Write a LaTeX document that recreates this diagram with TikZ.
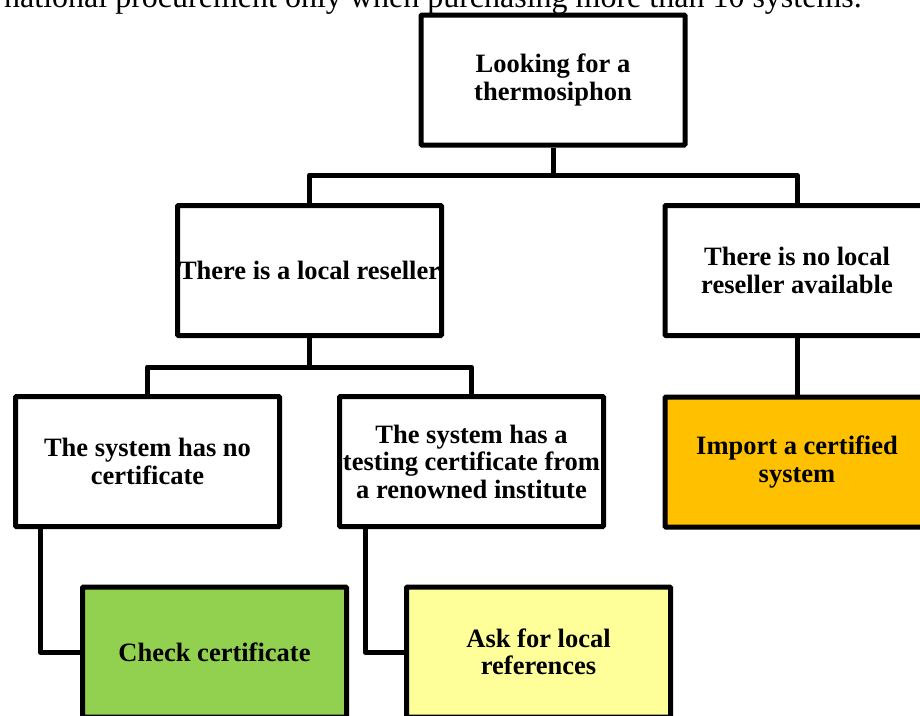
\documentclass[tikz,border=0pt]{standalone}
\usepackage{fontspec}
\setmainfont{Liberation Serif}
\definecolor{cgreen}{HTML}{92D050}
\definecolor{cyellow}{HTML}{FFFF99}
\definecolor{corange}{HTML}{FFC000}
\begin{document}
\begin{tikzpicture}[x=1pt,y=-1pt,
  box/.style={draw=black, line width=5pt, fill=white, rectangle, minimum width=264pt, minimum height=130pt,
    inner sep=0pt, align=center, font=\bfseries\fontsize{26.5}{27.5}\selectfont, rounded corners=1pt},
  conn/.style={draw=black, line width=5pt, line join=round}]
\useasboundingbox (0,0) rectangle (920,715);
\clip (0,0) rectangle (920,715);
\fill[white] (0,0) rectangle (920,715);
\node[anchor=base east, inner sep=0pt, font=\fontsize{32}{32}\selectfont] (note) at (862,7.5) {national procurement only when purchasing more than 10 systems.};
\node[box] (top) at (553,80) {Looking for a\\thermosiphon};
\node[box] (lr) at (309.5,270.5) {There is a local reseller};
\node[box] (nlr) at (797,270.5) {There is no local\\reseller available};
\node[box] (nc) at (147.5,461.5) {The system has no\\certificate};
\node[box] (tc) at (471.5,461.5) {The system has a\\testing certificate from\\a renowned institute};
\node[box, fill=corange] (imp) at (797,462) {Import a certified\\system};
\node[box, fill=cgreen] (cc) at (214.5,652) {Check certificate};
\node[box, fill=cyellow] (al) at (538.5,652) {Ask for local\\references};
\coordinate (j1) at (553,175);
\coordinate (j2) at (309.5,367);
\draw[conn] (top.south) -- (j1);
\draw[conn] (lr.north) |- (j1) -| (nlr.north);
\draw[conn] (lr.south) -- (j2);
\draw[conn] (nc.north) |- (j2) -| (tc.north);
\draw[conn] (nlr.south) -- (imp.north);
\draw[conn] ([xshift=-107.5pt]nc.south) |- (cc.west);
\draw[conn] ([xshift=-106.5pt]tc.south) |- (al.west);
\end{tikzpicture}
\end{document}
